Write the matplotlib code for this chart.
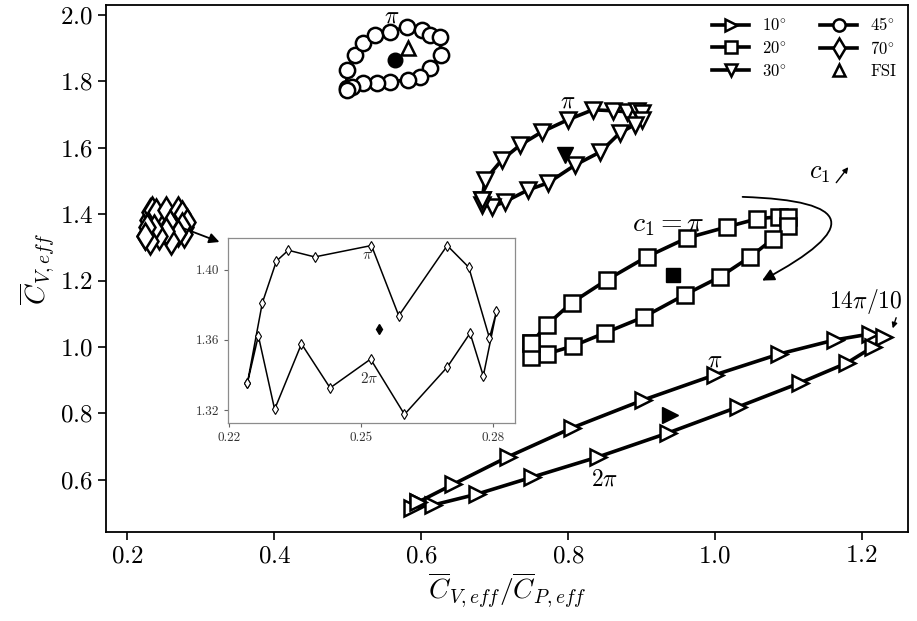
import matplotlib
matplotlib.use('Agg')
import matplotlib.pyplot as plt

plt.rcParams['font.family'] = 'serif'
plt.rcParams['font.serif'] = ['cmr10']
plt.rcParams['mathtext.fontset'] = 'cm'
plt.rcParams['axes.formatter.use_mathtext'] = True

# Hysteresis loops, upper branch then lower branch (x = C_V/C_P, y = C_V)
deg10_x = [0.596, 0.644, 0.718, 0.805, 0.902, 1.000, 1.088, 1.163, 1.211, 1.230,
           1.215, 1.180, 1.116, 1.031, 0.936, 0.841, 0.751, 0.676, 0.616, 0.588, 0.596]
deg10_y = [0.533, 0.587, 0.669, 0.756, 0.840, 0.916, 0.979, 1.021, 1.039, 1.030,
           1.000, 0.952, 0.892, 0.819, 0.741, 0.669, 0.608, 0.557, 0.524, 0.515, 0.533]

deg20_x = [0.750, 0.771, 0.805, 0.853, 0.907, 0.962, 1.016, 1.058, 1.088, 1.099,
           1.099, 1.079, 1.048, 1.007, 0.959, 0.903, 0.850, 0.807, 0.771, 0.750, 0.750]
deg20_y = [1.012, 1.066, 1.133, 1.202, 1.271, 1.328, 1.361, 1.386, 1.392, 1.392,
           1.364, 1.325, 1.271, 1.211, 1.157, 1.090, 1.042, 1.003, 0.979, 0.970, 1.012]

deg30_x = [0.683, 0.687, 0.710, 0.735, 0.765, 0.800, 0.834, 0.861, 0.880, 0.894, 0.901,
           0.901, 0.891, 0.871, 0.844, 0.810, 0.773, 0.746, 0.714, 0.697, 0.683, 0.683]
deg30_y = [1.443, 1.503, 1.563, 1.608, 1.648, 1.684, 1.714, 1.711, 1.708, 1.711, 1.705,
           1.684, 1.669, 1.645, 1.587, 1.548, 1.494, 1.473, 1.437, 1.422, 1.428, 1.443]

deg45_x = [0.499, 0.499, 0.510, 0.521, 0.537, 0.558, 0.581, 0.601, 0.612, 0.626,
           0.627, 0.612, 0.599, 0.582, 0.558, 0.540, 0.521, 0.506, 0.499]
deg45_y = [1.780, 1.834, 1.880, 1.916, 1.940, 1.949, 1.964, 1.955, 1.940, 1.934,
           1.880, 1.840, 1.813, 1.804, 1.798, 1.795, 1.795, 1.783, 1.774]

deg70_x = [0.2242, 0.2276, 0.2308, 0.2335, 0.2395, 0.2524, 0.2586, 0.2696, 0.2745, 0.2792, 0.2808,
           0.2778, 0.2748, 0.2696, 0.2599, 0.2522, 0.2430, 0.2365, 0.2304, 0.2267, 0.2242]
deg70_y = [1.3352, 1.3810, 1.4048, 1.4110, 1.4072, 1.4137, 1.3737, 1.4137, 1.4013, 1.3610, 1.3762,
           1.3394, 1.3638, 1.3444, 1.3175, 1.3490, 1.3326, 1.3577, 1.3204, 1.3623, 1.3352]

# cycle-averaged values
mean_x = {'10': 0.939, '20': 0.943, '30': 0.796, '45': 0.565, '70': 0.2541}
mean_y = {'10': 0.795, '20': 1.217, '30': 1.578, '45': 1.864, '70': 1.3661}
fsi_x, fsi_y = 0.582, 1.901

fig = plt.figure(figsize=(9.17, 6.21), dpi=100)
ax = fig.add_axes([0.1156, 0.1433, 0.8746, 0.849])

lw = 2.6
mew = 1.8
ax.plot(deg10_x, deg10_y, '-', marker='>', color='k', lw=lw, ms=11.5, mfc='w', mew=mew, label=r'$10^{\circ}$')
ax.plot(deg20_x, deg20_y, '-', marker='s', color='k', lw=lw, ms=11, mfc='w', mew=mew, label=r'$20^{\circ}$')
ax.plot(deg30_x, deg30_y, '-', marker='v', color='k', lw=lw, ms=11.5, mfc='w', mew=mew, label=r'$30^{\circ}$')
ax.plot(deg45_x, deg45_y, '-', marker='o', color='k', lw=lw, ms=11, mfc='w', mew=mew, label=r'$45^{\circ}$')
ax.plot(deg70_x, deg70_y, '-', marker='d', color='k', lw=lw, ms=13, mfc='w', mew=mew, label=r'$70^{\circ}$')
ax.plot([fsi_x], [fsi_y], ls='none', marker='^', color='k', ms=10, mfc='w', mew=mew, label='FSI')

ax.plot(mean_x['10'], mean_y['10'], marker='>', color='k', ms=11)
ax.plot(mean_x['20'], mean_y['20'], marker='s', color='k', ms=10.5)
ax.plot(mean_x['30'], mean_y['30'], marker='v', color='k', ms=11)
ax.plot(mean_x['45'], mean_y['45'], marker='o', color='k', ms=10.5)

ax.set_xlim(0.171, 1.263)
ax.set_ylim(0.443, 2.03)
ax.set_xticks([0.2, 0.4, 0.6, 0.8, 1.0, 1.2])
ax.set_yticks([0.6, 0.8, 1.0, 1.2, 1.4, 1.6, 1.8, 2.0])
ax.tick_params(labelsize=18, length=6, width=1.2)
for s in ax.spines.values():
    s.set_linewidth(1.3)
ax.set_xlabel(r'$\overline{C}_{V,eff}/\overline{C}_{P,eff}$', fontsize=20, labelpad=2)
ax.set_ylabel(r'$\overline{C}_{V,eff}$', fontsize=20, labelpad=2)

ax.legend(loc='upper right', ncol=2, frameon=False, fontsize=12, markerscale=0.8,
          handlelength=2.2, columnspacing=2.0, labelspacing=0.4, borderaxespad=0.3)

# phase labels
ax.text(0.560, 1.994, r'$\pi$', fontsize=17, ha='center', va='center')
ax.text(0.800, 1.738, r'$\pi$', fontsize=17, ha='center', va='center')
ax.text(0.936, 1.367, r'$c_1 = \pi$', fontsize=20, ha='center', va='center')
ax.text(1.000, 0.960, r'$\pi$', fontsize=17, ha='center', va='center')
ax.text(0.850, 0.600, r'$2\pi$', fontsize=17, ha='center', va='center')
ax.text(1.205, 1.136, r'$14\pi/10$', fontsize=17, ha='center', va='center')
ax.text(1.143, 1.524, r'$c_1$', fontsize=19, ha='center', va='center')

# direction of the cycle
ax.annotate('', xy=(1.061, 1.196), xytext=(1.034, 1.452),
            arrowprops=dict(arrowstyle='-|>', connectionstyle='arc3,rad=-1.9',
                            color='k', lw=1.3, mutation_scale=18))
ax.annotate('', xy=(1.184, 1.548), xytext=(1.163, 1.488),
            arrowprops=dict(arrowstyle='-|>', color='k', lw=1.0, mutation_scale=8))
ax.annotate('', xy=(1.241, 1.048), xytext=(1.248, 1.096),
            arrowprops=dict(arrowstyle='-|>', color='k', lw=1.0, mutation_scale=8))
# pointer to the zoomed 70 deg loop
ax.annotate('', xy=(0.329, 1.313), xytext=(0.272, 1.361),
            arrowprops=dict(arrowstyle='-|>', color='k', lw=1.3, mutation_scale=15))

# inset: 70 deg loop
axins = fig.add_axes([0.2486, 0.3188, 0.313, 0.298])
axins.plot(deg70_x, deg70_y, '-', marker='d', color='k', lw=1.1, ms=5, mfc='w', mew=0.8)
axins.plot(mean_x['70'], mean_y['70'], marker='d', color='k', ms=5)
axins.set_xlim(0.2198, 0.285)
axins.set_ylim(1.3126, 1.418)
axins.set_xticks([0.22, 0.25, 0.28])
axins.set_yticks([1.32, 1.36, 1.40])
axins.set_xticklabels(['0.22', '0.25', '0.28'])
axins.set_yticklabels(['1.32', '1.36', '1.40'])
axins.tick_params(labelsize=9.5, length=3, color='0.4', labelcolor='0.2')
for s in axins.spines.values():
    s.set_color('0.55')
    s.set_linewidth(0.9)
axins.text(0.2514, 1.408, r'$\pi$', fontsize=11, ha='center', va='center', color='0.2')
axins.text(0.2518, 1.338, r'$2\pi$', fontsize=11, ha='center', va='center', color='0.2')

fig.savefig('out.png', dpi=100)
